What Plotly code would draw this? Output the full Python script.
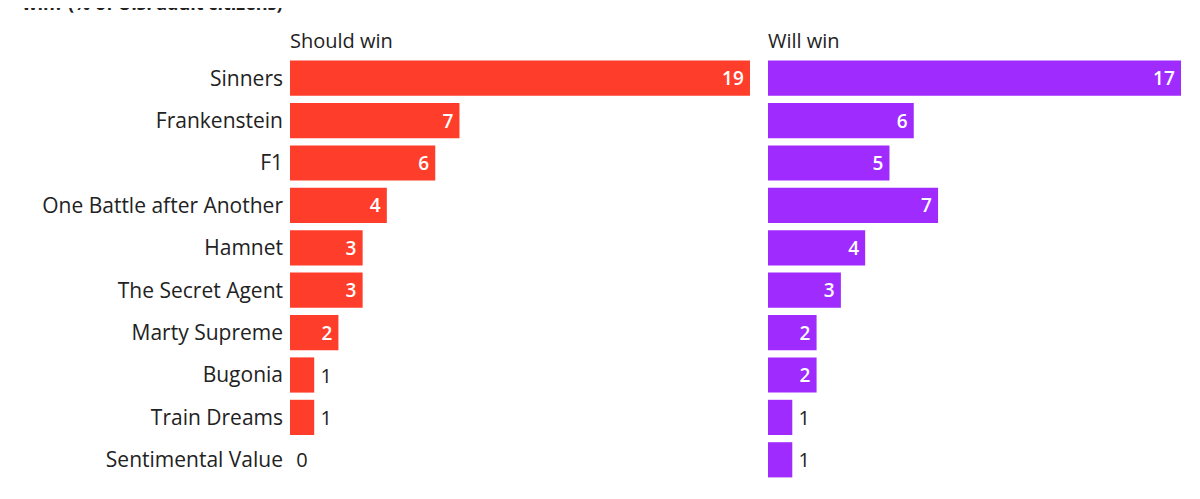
import plotly.graph_objects as go
from plotly.subplots import make_subplots

films = ["Sinners", "Frankenstein", "F1", "One Battle after Another", "Hamnet",
         "The Secret Agent", "Marty Supreme", "Bugonia", "Train Dreams", "Sentimental Value"]
should_win = [19, 7, 6, 4, 3, 3, 2, 1, 1, 0]
will_win = [17, 6, 5, 7, 4, 3, 2, 2, 1, 1]

RED = "#FF3D2B"
PURPLE = "#A02BFF"
FONT = "Open Sans"
TXT = "#222222"

W, H = 1200, 499
OFF = 8  # page body margin
TOP, BOTTOM = 57 - OFF, H - (481 - OFF)

fig = make_subplots(rows=1, cols=2, shared_yaxes=True, horizontal_spacing=0.02)

def labels(vals):
    pos = ["inside" if v >= 2 else "outside" for v in vals]
    txt = [f"{v}\u2009" if v >= 2 else f"\u2009{v}" for v in vals]
    return pos, txt

for i, (vals, color) in enumerate([(should_win, RED), (will_win, PURPLE)]):
    pos, txt = labels(vals)
    fig.add_trace(go.Bar(
        y=films, x=vals, orientation="h",
        marker=dict(color=color, line=dict(width=0)),
        text=txt, textposition=pos, insidetextanchor="end",
        insidetextfont=dict(family=FONT, size=19, color="white", weight=600),
        outsidetextfont=dict(family=FONT, size=20, color=TXT, weight=400),
        cliponaxis=False, constraintext="none", textangle=0,
        hoverinfo="skip", showlegend=False,
    ), row=1, col=i + 1)

left_dom = [(290 - OFF) / W, (750 - OFF) / W]
right_dom = [(768 - OFF) / W, (1181 - OFF) / W]

fig.update_layout(
    width=W, height=H,
    margin=dict(l=0, r=0, t=TOP, b=BOTTOM),
    paper_bgcolor="white", plot_bgcolor="white",
    bargap=0.17,
    font=dict(family=FONT, size=21, color=TXT),
    xaxis=dict(domain=left_dom, range=[0, max(should_win)], visible=False, fixedrange=True),
    xaxis2=dict(domain=right_dom, range=[0, max(will_win)], visible=False, fixedrange=True),
    yaxis=dict(autorange="reversed", showgrid=False, zeroline=False, showline=False,
               ticks="", ticklabelstandoff=6,
               tickfont=dict(family=FONT, size=21, color=TXT)),
)

plot_h = H - TOP - BOTTOM
def py(px):
    return 1 + (TOP - px) / plot_h

fig.add_annotation(text="Should win", xref="paper", yref="paper",
                   x=left_dom[0] - 2 / W, y=py(40 - OFF), xanchor="left", yanchor="middle",
                   showarrow=False, font=dict(family=FONT, size=20, color=TXT))
fig.add_annotation(text="Will win", xref="paper", yref="paper",
                   x=right_dom[0] - 2 / W, y=py(40 - OFF), xanchor="left", yanchor="middle",
                   showarrow=False, font=dict(family=FONT, size=20, color=TXT))
fig.add_annotation(text="<b>win? (% of U.S. adult citizens)</b>", xref="paper", yref="paper",
                   x=(20 - OFF) / W, y=py(-5), xanchor="left", yanchor="middle",
                   showarrow=False, font=dict(family=FONT, size=18, color=TXT))

fig.write_html("out.html")
